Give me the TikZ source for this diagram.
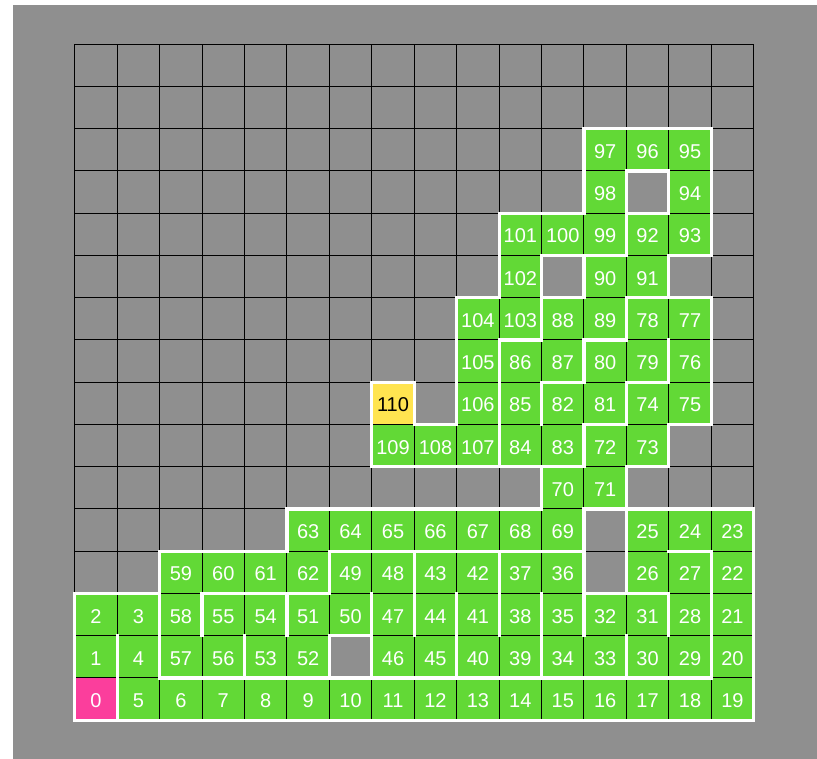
\documentclass[tikz,border=0pt]{standalone}
\usepackage{fontspec}
\setmainfont{Liberation Sans}
\definecolor{bggray}{HTML}{8F8F8F}
\definecolor{pathgreen}{HTML}{62D936}
\definecolor{startpink}{HTML}{FB3E9C}
\definecolor{endyellow}{HTML}{FFE450}
\newif\ifmzwall
\newcommand\mzget[3]{\ifcsname mz@#1@#2\endcsname\edef#3{\csname mz@#1@#2\endcsname}\else\def#3{-1}\fi}
\newcommand\mzcheck[2]{\mzwallfalse\ifnum#2<0 \mzwalltrue\else\ifnum\numexpr#1-#2\relax=1 \else\ifnum\numexpr#2-#1\relax=1 \else\mzwalltrue\fi\fi\fi}
\def\mazerows{%
{-1,-1,-1,-1,-1,-1,-1,-1,-1,-1,-1,-1,-1,-1,-1,-1},%
{-1,-1,-1,-1,-1,-1,-1,-1,-1,-1,-1,-1,-1,-1,-1,-1},%
{-1,-1,-1,-1,-1,-1,-1,-1,-1,-1,-1,-1,97,96,95,-1},%
{-1,-1,-1,-1,-1,-1,-1,-1,-1,-1,-1,-1,98,-1,94,-1},%
{-1,-1,-1,-1,-1,-1,-1,-1,-1,-1,101,100,99,92,93,-1},%
{-1,-1,-1,-1,-1,-1,-1,-1,-1,-1,102,-1,90,91,-1,-1},%
{-1,-1,-1,-1,-1,-1,-1,-1,-1,104,103,88,89,78,77,-1},%
{-1,-1,-1,-1,-1,-1,-1,-1,-1,105,86,87,80,79,76,-1},%
{-1,-1,-1,-1,-1,-1,-1,110,-1,106,85,82,81,74,75,-1},%
{-1,-1,-1,-1,-1,-1,-1,109,108,107,84,83,72,73,-1,-1},%
{-1,-1,-1,-1,-1,-1,-1,-1,-1,-1,-1,70,71,-1,-1,-1},%
{-1,-1,-1,-1,-1,63,64,65,66,67,68,69,-1,25,24,23},%
{-1,-1,59,60,61,62,49,48,43,42,37,36,-1,26,27,22},%
{2,3,58,55,54,51,50,47,44,41,38,35,32,31,28,21},%
{1,4,57,56,53,52,-1,46,45,40,39,34,33,30,29,20},%
{0,5,6,7,8,9,10,11,12,13,14,15,16,17,18,19}}
\foreach \rowlist [count=\ri from 0] in \mazerows {%
  \pgfmathtruncatemacro\rr{15-\ri}%
  \foreach \v [count=\ci from 0] in \rowlist {%
    \expandafter\xdef\csname mz@\ci @\rr\endcsname{\v}%
  }%
}
\tikzset{
  gridline/.style={black, line width=1bp},
  wall/.style={white, line width=3.2bp, line cap=rect},
  lab/.style={font=\fontsize{20bp}{24bp}\selectfont, anchor=base, yshift=-8.5bp, inner sep=0pt}
}
\begin{document}
\begin{tikzpicture}[x=1bp,y=1bp]
\useasboundingbox (0,0) rectangle (817,759);
\fill[bggray] (13,0) rectangle (817,754);
\begin{scope}[shift={(74.8bp,38.8bp)}, x=42.43bp, y=42.25bp]
  % cell fills
  \foreach \r in {0,...,15}{\foreach \c in {0,...,15}{%
    \mzget{\c}{\r}\vv
    \ifnum\vv<0 \else
      \ifnum\vv=0 \def\cc{startpink}\else\ifnum\vv=110 \def\cc{endyellow}\else\def\cc{pathgreen}\fi\fi
      \fill[\cc] (\c,\r) rectangle ++(1,1);
    \fi}}
  % thin grid
  \foreach \i in {0,...,16}{\draw[gridline] (\i,0) -- (\i,16); \draw[gridline] (0,\i) -- (16,\i);}
  % walls
  \foreach \r in {0,...,15}{\foreach \c in {0,...,15}{%
    \mzget{\c}{\r}\vv
    \ifnum\vv<0 \else
      \edef\cp{\the\numexpr\c+1\relax}\edef\cm{\the\numexpr\c-1\relax}%
      \edef\rp{\the\numexpr\r+1\relax}\edef\rm{\the\numexpr\r-1\relax}%
      \mzget{\cp}{\r}\nb\mzcheck{\vv}{\nb}\ifmzwall\draw[wall] (\cp,\r) -- (\cp,\rp);\fi
      \mzget{\cm}{\r}\nb\mzcheck{\vv}{\nb}\ifmzwall\draw[wall] (\c,\r) -- (\c,\rp);\fi
      \mzget{\c}{\rp}\nb\mzcheck{\vv}{\nb}\ifmzwall\draw[wall] (\c,\rp) -- (\cp,\rp);\fi
      \mzget{\c}{\rm}\nb\mzcheck{\vv}{\nb}\ifmzwall\draw[wall] (\c,\r) -- (\cp,\r);\fi
    \fi}}
  % labels
  \foreach \r in {0,...,15}{\foreach \c in {0,...,15}{%
    \mzget{\c}{\r}\vv
    \ifnum\vv<0 \else
      \ifnum\vv=110 \def\tc{black}\else\def\tc{white}\fi
      \node[lab, text=\tc] (n\vv) at (\c+0.5,\r+0.5) {\vv};
    \fi}}
\end{scope}
\end{tikzpicture}
\end{document}
